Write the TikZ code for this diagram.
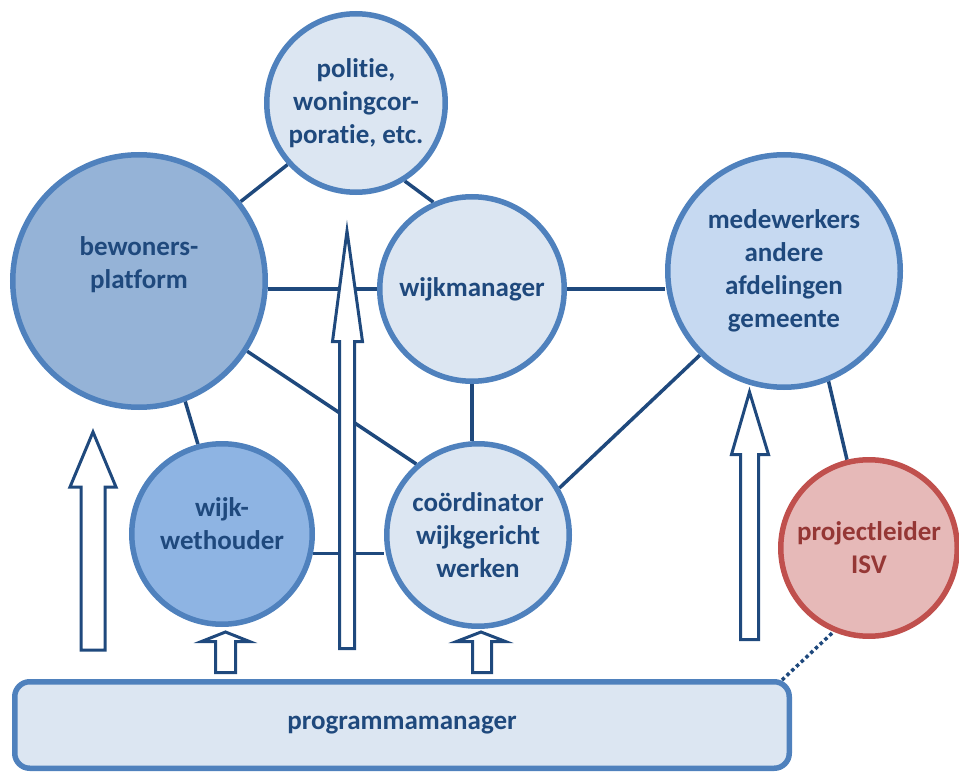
\documentclass[tikz,border=0pt]{standalone}
\usepackage{fontspec}
\setmainfont{Carlito}[Ligatures=NoCommon]
\usetikzlibrary{backgrounds}

\definecolor{txtblue}{HTML}{1F497D}
\definecolor{edgeblue}{HTML}{4F81BD}
\definecolor{lightfill}{HTML}{DCE6F2}
\definecolor{bewfill}{HTML}{95B3D7}
\definecolor{medfill}{HTML}{C6D9F1}
\definecolor{wethfill}{HTML}{8EB4E3}
\definecolor{redfill}{HTML}{E6B9B8}
\definecolor{rededge}{HTML}{C0504D}
\definecolor{redtxt}{HTML}{953735}

\tikzset{
  txt/.style={text=txtblue, font=\bfseries\fontsize{27}{33}\selectfont, align=center},
  bubble/.style={circle, draw=edgeblue, line width=5.5pt, fill=lightfill, inner sep=0pt, txt},
  link/.style={draw=txtblue, line width=3.5pt},
  upar/.style={draw=txtblue, line width=3pt, fill=white, line join=miter},
}

\begin{document}
\begin{tikzpicture}[x=1pt,y=-1pt]
 \useasboundingbox (0,0) rectangle (959,773);

 % the circles
 \node[bubble, minimum size=178.5pt] (pol) at (356,103) {politie,\\woningcor-\\poratie, etc.};
 \node[bubble, fill=bewfill, minimum size=252.5pt,
       label={[txt,yshift=16pt]center:{bewoners-\\platform}}] (bew) at (139,281) {};
 \node[bubble, minimum size=184.5pt] (wm) at (472,289) {wijkmanager};
 \node[bubble, fill=medfill, minimum size=232.5pt] (med) at (784,271) {medewerkers\\andere\\afdelingen\\gemeente};
 \node[bubble, fill=wethfill, minimum size=180.5pt,
       label={[txt,yshift=10pt]center:{wijk-\\wethouder}}] (weth) at (222,534) {};
 \node[bubble, minimum size=182.5pt] (co) at (478,535) {coördinator\\wijkgericht\\werken};
 \node[bubble, draw=rededge, fill=redfill, text=redtxt, minimum size=176.5pt] (isv) at (869,548) {projectleider\\ISV};

 \node[draw=edgeblue, line width=5.5pt, fill=lightfill, rounded corners=15pt,
       minimum width=774.5pt, minimum height=86.5pt, txt] (prog) at (402,725) {programmamanager};

 % the lines
 \begin{scope}[on background layer]
  \draw[link] (pol.222) -- (bew.38);
  \draw[link] (pol.-58) -- (wm.114);
  \draw[link] (wm.west) -- (wm.west -| bew.east);
  \draw[link] (wm.east) -- (wm.east -| med.west);
  \draw[link] (wm.south) -- (wm.south |- co.north);
  \draw[link] (bew.-33) -- (co.131);
  \draw[link] (med.225) -- (co.30);
  \draw[link] (bew.-69) -- (weth.105);
  \draw[link] (weth.-12) -- (weth.-12 -| co.west);
  \draw[link] (med.-68) -- (isv.104);
  \draw[link, dash pattern=on 3.5pt off 3pt] ([xshift=-10pt,yshift=-1pt]prog.north east) -- (isv.247);
 \end{scope}

 % the block arrows
 \draw[upar] (81,650) -- (81,487) -- (70,487) -- (93,432) -- (116,487) -- (105,487) -- (105,650) -- cycle;
 \draw[upar] (339.5,648.5) -- (339.5,341.5) -- (332.5,341.5) -- (347,231) -- (362.5,341.5) -- (354.5,341.5) -- (354.5,648.5) -- cycle;
 \draw[upar] (215.5,672.5) -- (215.5,641.5) -- (201.5,641.5) -- (225.5,632) -- (249.5,641.5) -- (235.5,641.5) -- (235.5,672.5) -- cycle;
 \draw[upar] (472.5,672.5) -- (472.5,641.5) -- (456.5,641.5) -- (481,632) -- (505.5,641.5) -- (491.5,641.5) -- (491.5,672.5) -- cycle;
 \draw[upar] (740.5,639.5) -- (740.5,454.5) -- (731.5,454.5) -- (749.5,392) -- (768.5,454.5) -- (758.5,454.5) -- (758.5,639.5) -- cycle;
\end{tikzpicture}
\end{document}
